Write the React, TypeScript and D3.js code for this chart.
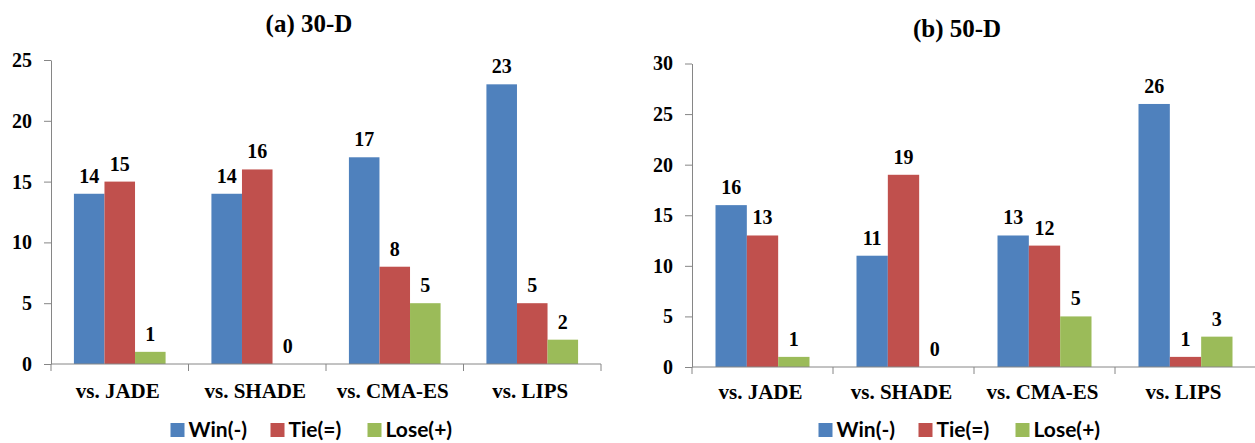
import React, { useEffect, useRef } from "react";
import * as d3 from "d3";

const categories = ["vs. JADE", "vs. SHADE", "vs. CMA-ES", "vs. LIPS"];
const seriesNames = ["Win(-)", "Tie(=)", "Lose(+)"];
const seriesColors = ["#4F81BD", "#C0504D", "#9BBB59"];

const win30 = [14, 14, 17, 23];
const tie30 = [15, 16, 8, 5];
const lose30 = [1, 0, 5, 2];

const win50 = [16, 11, 13, 26];
const tie50 = [13, 19, 12, 1];
const lose50 = [1, 0, 5, 3];

const ticks30 = [0, 5, 10, 15, 20, 25];
const ticks50 = [0, 5, 10, 15, 20, 25, 30];

const SERIF = "'Liberation Serif', 'Times New Roman', serif";
const SANS = "Lato, 'Open Sans', sans-serif";
const AXIS = "#868686";

interface PanelCfg {
  title: string;
  series: number[][];
  ticks: number[];
  x0: number; x1: number;
  y0: number; y1: number;
  titleY: number;
  catY: number;
  legendY: number;
}

const panels: PanelCfg[] = [
  { title: "(a) 30-D", series: [win30, tie30, lose30], ticks: ticks30,
    x0: 51, x1: 601, y0: 364, y1: 60, titleY: 32, catY: 398, legendY: 423 },
  { title: "(b) 50-D", series: [win50, tie50, lose50], ticks: ticks50,
    x0: 692, x1: 1256, y0: 367, y1: 63.5, titleY: 37, catY: 399, legendY: 423 },
];

function drawPanel(svg: d3.Selection<SVGSVGElement, unknown, null, undefined>, p: PanelCfg) {
  const g = svg.append("g");
  const maxV = p.ticks[p.ticks.length - 1];

  const x = d3.scaleBand().domain(categories).range([p.x0, p.x1]).padding(0);
  const inner = d3.scaleBand().domain(seriesNames).range([0, x.bandwidth()])
    .paddingInner(0).paddingOuter(0.75);
  const y = d3.scaleLinear().domain([0, maxV]).range([p.y0, p.y1]);

  // y axis
  const ya = g.append("g")
    .attr("transform", `translate(${p.x0},0)`)
    .call(d3.axisLeft(y).tickValues(p.ticks).tickSize(7).tickSizeOuter(0).tickPadding(12));
  ya.select(".domain").attr("stroke", AXIS);
  ya.selectAll(".tick line").attr("stroke", AXIS);
  ya.selectAll(".tick text")
    .attr("font-family", SERIF).attr("font-weight", "bold")
    .attr("font-size", 20).attr("fill", "#000");

  // bars
  p.series.forEach((vals, si) => {
    g.append("g").selectAll("rect")
      .data(vals)
      .join("rect")
      .attr("x", (d, i) => (x(categories[i]) as number) + (inner(seriesNames[si]) as number))
      .attr("y", d => y(d))
      .attr("width", inner.bandwidth())
      .attr("height", d => y(0) - y(d))
      .attr("fill", seriesColors[si]);

    g.append("g").selectAll("text")
      .data(vals)
      .join("text")
      .attr("x", (d, i) => (x(categories[i]) as number) + (inner(seriesNames[si]) as number) + inner.bandwidth() / 2)
      .attr("y", d => y(d) - 11)
      .attr("text-anchor", "middle")
      .attr("font-family", SERIF).attr("font-weight", "bold").attr("font-size", 20)
      .text(d => d);
  });

  // x axis line and category boundary ticks
  g.append("line")
    .attr("x1", p.x0).attr("x2", p.x1).attr("y1", y(0)).attr("y2", y(0))
    .attr("stroke", AXIS);
  const bounds = categories.map(c => x(c) as number).concat([p.x1]);
  g.append("g").selectAll("line")
    .data(bounds)
    .join("line")
    .attr("x1", d => d).attr("x2", d => d)
    .attr("y1", y(0)).attr("y2", y(0) + 7)
    .attr("stroke", AXIS);

  g.append("g").selectAll("text")
    .data(categories)
    .join("text")
    .attr("x", d => (x(d) as number) + x.bandwidth() / 2 - 2)
    .attr("y", p.catY)
    .attr("text-anchor", "middle")
    .attr("font-family", SERIF).attr("font-weight", "bold").attr("font-size", 21)
    .text(d => d);

  // title
  const center = (p.x0 + p.x1) / 2 - 17;
  g.append("text")
    .attr("x", center).attr("y", p.titleY)
    .attr("text-anchor", "middle")
    .attr("font-family", SERIF).attr("font-weight", "bold").attr("font-size", 25)
    .text(p.title);

  // legend
  const itemW = [100, 97, 90];
  const total = d3.sum(itemW);
  let lx = center - total / 2 + 5;
  seriesNames.forEach((name, i) => {
    g.append("rect")
      .attr("x", lx).attr("y", p.legendY)
      .attr("width", 14).attr("height", 14)
      .attr("fill", seriesColors[i]);
    g.append("text")
      .attr("x", lx + 18).attr("y", p.legendY + 14)
      .attr("font-family", SANS).attr("font-weight", 700).attr("font-size", 21)
      .text(name);
    lx += itemW[i];
  });
}

export default function App() {
  const ref = useRef<SVGSVGElement>(null);

  useEffect(() => {
    if (!ref.current) return;
    const svg = d3.select(ref.current);
    svg.selectAll("*").remove();
    panels.forEach(p => drawPanel(svg, p));
  }, []);

  return (
    <svg ref={ref} width={1255} height={443}
      style={{ position: "absolute", left: 0, top: 0, background: "#fff" }} />
  );
}
